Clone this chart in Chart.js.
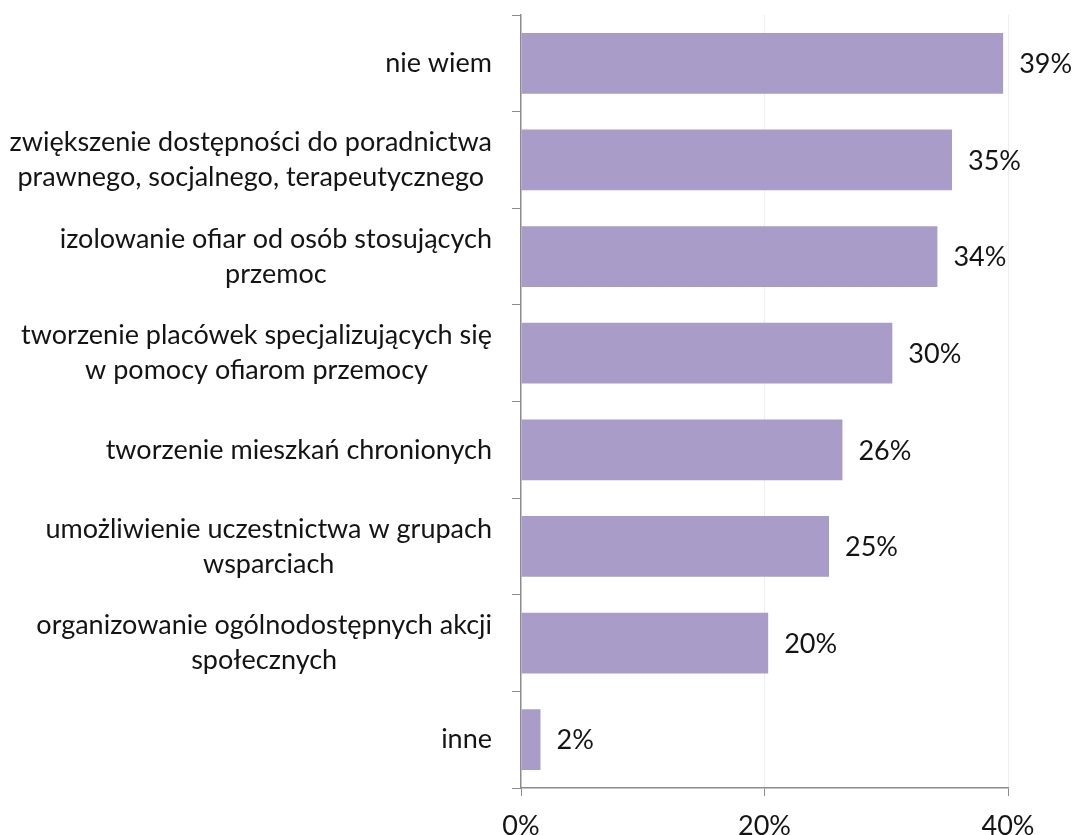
<!DOCTYPE html>
<html>
<head>
<meta charset="utf-8">
<script src="https://cdn.jsdelivr.net/npm/chart.js@4"></script>
<style>
html, body { margin: 0; padding: 0; background: #fff; }
#wrap { width: 1073px; height: 835px; }
</style>
</head>
<body>
<div id="wrap"><canvas id="barChart" width="1073" height="835"></canvas></div>
<script>
// categories (top to bottom), lines split as in the picture
var categories = [
  ['nie wiem'],
  ['zwiększenie dostępności do poradnictwa', 'prawnego, socjalnego, terapeutycznego'],
  ['izolowanie ofiar od osób stosujących', 'przemoc'],
  ['tworzenie placówek specjalizujących się', 'w pomocy ofiarom przemocy'],
  ['tworzenie mieszkań chronionych'],
  ['umożliwienie uczestnictwa w grupach', 'wsparciach'],
  ['organizowanie ogólnodostępnych akcji', 'społecznych'],
  ['inne']
];
// bar lengths (%)
var values = [39.6, 35.4, 34.2, 30.5, 26.4, 25.3, 20.3, 1.6];
// printed value labels
var valueLabels = ['39%', '35%', '34%', '30%', '26%', '25%', '20%', '2%'];
var xTicks = [0, 20, 40];

var fontFamily = 'Lato, "Open Sans", sans-serif';
var fontSize = 27;
var textColor = '#141414';
var axisColor = '#8c8c8c';

// draws wrapped category labels, right aligned block, lines centred inside it
var categoryLabels = {
  id: 'categoryLabels',
  afterDraw: function(chart) {
    var ctx = chart.ctx;
    var yScale = chart.scales.y;
    var rightEdge = yScale.right - 29;
    var lineH = 35;
    ctx.save();
    ctx.font = fontSize + 'px ' + fontFamily;
    ctx.fillStyle = textColor;
    ctx.textAlign = 'center';
    ctx.textBaseline = 'middle';
    categories.forEach(function(lines, i) {
      var y = yScale.getPixelForValue(i);
      var w = 0;
      lines.forEach(function(l) { w = Math.max(w, ctx.measureText(l).width); });
      var cx = rightEdge - w / 2;
      var y0 = y - (lines.length - 1) * lineH / 2;
      lines.forEach(function(l, k) {
        ctx.fillText(l, cx, y0 + k * lineH);
      });
    });
    ctx.restore();
  }
};

// value labels to the right of each bar
var valueText = {
  id: 'valueText',
  afterDatasetsDraw: function(chart) {
    var ctx = chart.ctx;
    var meta = chart.getDatasetMeta(0);
    ctx.save();
    ctx.font = fontSize + 'px ' + fontFamily;
    ctx.fillStyle = textColor;
    ctx.textAlign = 'left';
    ctx.textBaseline = 'middle';
    meta.data.forEach(function(bar, i) {
      ctx.fillText(valueLabels[i], bar.x + 16, bar.y + 1);
    });
    ctx.restore();
  }
};

new Chart(document.getElementById('barChart').getContext('2d'), {
  type: 'bar',
  data: {
    labels: categories.map(function(c) { return c.join(' '); }),
    datasets: [{
      data: values,
      backgroundColor: '#aa9cc8',
      borderWidth: 0,
      barPercentage: 0.63,
      categoryPercentage: 1
    }]
  },
  options: {
    indexAxis: 'y',
    responsive: false,
    animation: false,
    layout: { padding: { top: 15, right: 65, left: 0, bottom: 0 } },
    plugins: {
      legend: { display: false },
      tooltip: { enabled: false }
    },
    scales: {
      x: {
        min: 0,
        max: 40,
        afterBuildTicks: function(scale) {
          scale.ticks = xTicks.map(function(v) { return { value: v }; });
        },
        afterFit: function(scale) { scale.height = 47; },
        border: { color: axisColor, width: 1.5 },
        grid: {
          color: function(c) { return c.tick && c.tick.value === 0 ? 'rgba(0,0,0,0)' : '#ededf2'; },
          tickColor: axisColor,
          tickLength: 8,
          lineWidth: 1
        },
        ticks: {
          color: textColor,
          font: { family: fontFamily, size: fontSize },
          padding: 14,
          maxRotation: 0,
          callback: function(v) { return v + '%'; }
        }
      },
      y: {
        afterFit: function(scale) { scale.width = 521; },
        border: { color: axisColor, width: 1.5 },
        grid: {
          offset: true,
          drawOnChartArea: false,
          tickColor: axisColor,
          tickLength: 9
        },
        ticks: { display: false }
      }
    }
  },
  plugins: [categoryLabels, valueText]
});
</script>
</body>
</html>
